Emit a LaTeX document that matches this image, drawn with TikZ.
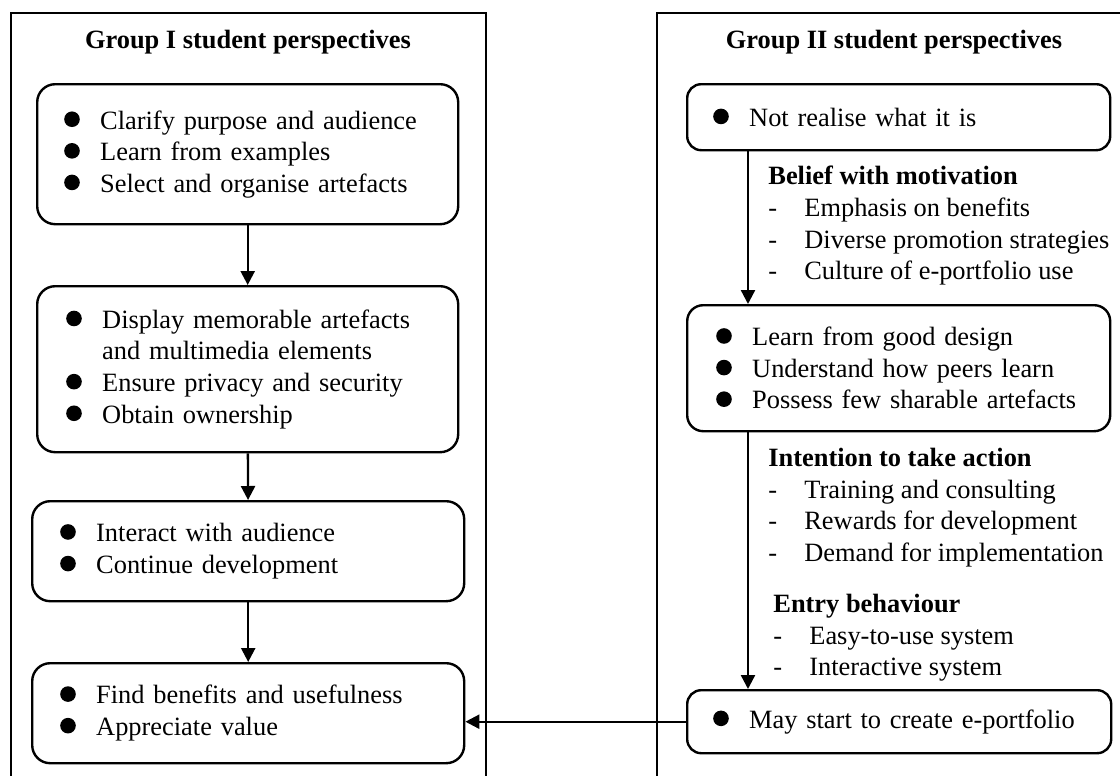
\documentclass[tikz,border=0pt]{standalone}
\usepackage{fontspec}
\setmainfont{Liberation Serif}
\usetikzlibrary{arrows.meta}
\newcommand{\bodyfont}{\fontsize{13.2pt}{15.8pt}\selectfont}
\newcommand{\bdot}{\tikz[baseline=0pt]\fill (0pt,4.9pt) circle[radius=3.9pt];}
\newcommand{\bitem}[1]{\makebox[18pt][l]{\bdot}#1}
\newcommand{\bcont}[1]{\hspace*{18pt}#1}
\newcommand{\ditem}[1]{\makebox[18pt][l]{-}#1}
\tikzset{
  frame/.style={draw,line width=0.9pt},
  stagebox/.style={draw,line width=1.2pt,rounded corners=9pt,anchor=north west,align=left,inner ysep=0pt,font=\bodyfont},
  grouptitle/.style={font=\bodyfont\bfseries},
  factor/.style={anchor=north west,align=left,inner sep=0pt,font=\bodyfont},
  flow/.style={line width=1.2pt,-{Triangle[width=7pt,length=7pt]}}
}
\begin{document}
\begin{tikzpicture}[x=0.5pt,y=-0.5pt]
\useasboundingbox (0,0) rectangle (1120,776);
% the two group panels
\draw[frame] (11,13) rectangle (486,800);
\draw[frame] (657,13) rectangle (1135,800);
\node[grouptitle] (tI) at (248,42) {Group I student perspectives};
\node[grouptitle] (tII) at (894,42) {Group II student perspectives};
% group I stages
\node[stagebox,minimum width=210.5pt,minimum height=70pt,inner xsep=13.5pt,text width=183.5pt] (gI1) at (36,83)
  {\bitem{Clarify purpose and audience}\\ \bitem{Learn from examples}\\ \bitem{Select and organise artefacts}};
\node[stagebox,minimum width=210.5pt,minimum height=83pt,inner xsep=14.5pt,text width=181.5pt] (gI2) at (36,285)
  {\bitem{Display memorable artefacts}\\ \bcont{and multimedia elements}\\ \bitem{Ensure privacy and security}\\ \bitem{Obtain ownership}};
\node[stagebox,minimum width=216pt,minimum height=50pt,inner xsep=14pt,text width=188pt] (gI3) at (31,500)
  {\bitem{Interact with audience}\\ \bitem{Continue development}};
\node[stagebox,minimum width=216pt,minimum height=50pt,inner xsep=14pt,text width=188pt] (gI4) at (31,662)
  {\bitem{Find benefits and usefulness}\\ \bitem{Appreciate value}};
% group II stages
\node[stagebox,rounded corners=7pt,minimum width=211.5pt,minimum height=33pt,inner xsep=13pt,text width=185.5pt] (gII1) at (686,83)
  {\bitem{Not realise what it is}};
\node[stagebox,rounded corners=8pt,minimum width=211.5pt,minimum height=63pt,inner xsep=14.5pt,text width=182.5pt] (gII2) at (686,304)
  {\bitem{Learn from good design}\\ \bitem{Understand how peers learn}\\ \bitem{Possess few sharable artefacts}};
\node[stagebox,rounded corners=7pt,minimum width=212pt,minimum height=31.5pt,inner xsep=13pt,text width=186pt] (gII3) at (686,689)
  {\bitem{May start to create e-portfolio}};
% factors between group II stages
\node[factor] (belief) at (768,166)
  {\textbf{Belief with motivation}\\ \ditem{Emphasis on benefits}\\ \ditem{Diverse promotion strategies}\\ \ditem{Culture of e-portfolio use}};
\node[factor] (intent) at (768,448)
  {\textbf{Intention to take action}\\ \ditem{Training and consulting}\\ \ditem{Rewards for development}\\ \ditem{Demand for implementation}};
\node[factor] (entry) at (773,594)
  {\textbf{Entry behaviour}\\ \ditem{Easy-to-use system}\\ \ditem{Interactive system}};
% arrows
\draw[flow] (gI1) -- (gI2);
\draw[flow] (gI2) -- (gI3);
\draw[flow] (gI3) -- (gI4);
\draw[flow] ([xshift=31pt]gII1.south west) -- ([xshift=31pt]gII2.north west);
\draw[flow] ([xshift=31pt]gII2.south west) -- ([xshift=31pt]gII3.north west);
\draw[flow] (gII3.west) -- (gII3.west -| gI4.east);
\end{tikzpicture}
\end{document}
